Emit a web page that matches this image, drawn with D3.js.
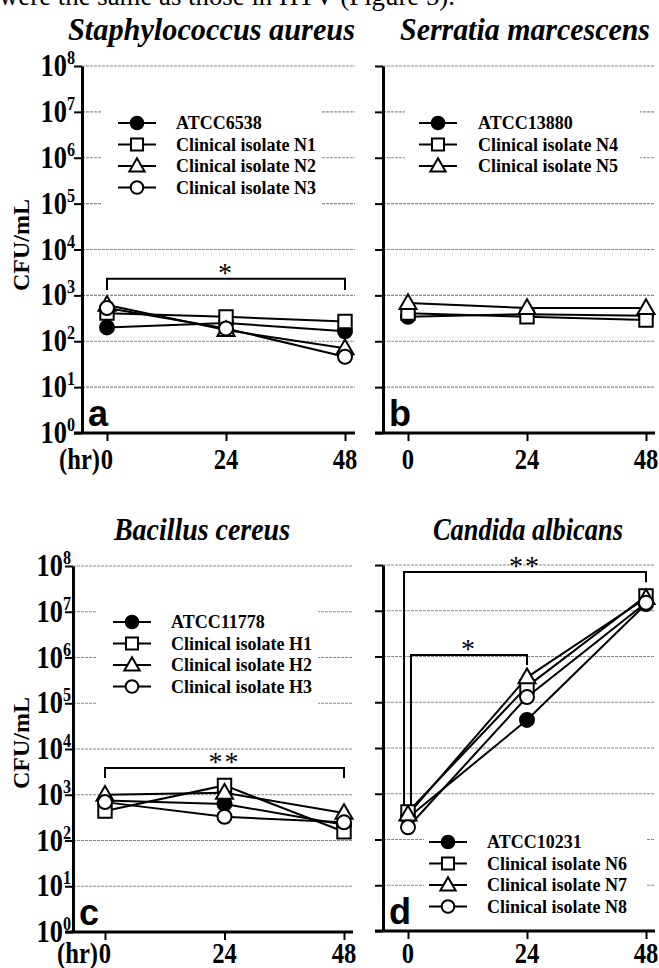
<!DOCTYPE html>
<html>
<head>
<meta charset="utf-8">
<script src="https://cdn.jsdelivr.net/npm/d3@7"></script>
<style>
body { margin: 0; background: #fff; }
svg { display: block; }
text { font-family: "Liberation Serif", "Times New Roman", serif; fill: #000; }
</style>
</head>
<body>
<svg id="fig" width="659" height="968"></svg>
<script>
// ---- data ----
const hours = [0, 24, 48];
const decades = [0, 1, 2, 3, 4, 5, 6, 7, 8];
const markerKinds = ["filled", "square", "triangle", "circle"];

const saNames = ["ATCC6538", "Clinical isolate N1", "Clinical isolate N2", "Clinical isolate N3"];
const saValues = [[200, 250, 165], [410, 340, 270], [620, 175, 70], [530, 190, 46]];

const smNames = ["ATCC13880", "Clinical isolate N4", "Clinical isolate N5"];
const smValues = [[340, 390, 360], [410, 340, 290], [680, 530, 530]];

const bcNames = ["ATCC11778", "Clinical isolate H1", "Clinical isolate H2", "Clinical isolate H3"];
const bcValues = [[750, 630, 220], [440, 1600, 155], [1000, 1100, 400], [690, 330, 250]];

const caNames = ["ATCC10231", "Clinical isolate N6", "Clinical isolate N7", "Clinical isolate N8"];
const caValues = [[300, 41000, 14000000], [400, 220000, 21000000], [350, 350000, 19000000], [185, 130000, 15000000]];

// significance brackets: from hour a to hour b, bar at value "bar", legs down to "endA"/"endB"
const saBrackets = [{a: 0, b: 48, bar: 2290, endA: 1310, endB: 1310, label: "*"}];
const bcBrackets = [{a: 0, b: 48, bar: 3840, endA: 2320, endB: 2320, label: "**"}];
const caBrackets = [
  {a: -0.8, b: 48, bar: 7.0e7, endA: 520, endB: 4.2e7, label: "**"},
  {a: 0.6, b: 24, bar: 1.08e6, endA: 520, endB: 6.5e5, label: "*"}
];

// ---- layout ----
const panels = [
  {title: "Staphylococcus aureus", tx: 68, tw: 287, ty: 40, letter: "a", names: saNames, values: saValues, brackets: saBrackets,
   axisX: 82, x0: 107, x48: 345, xEnd: 355, yTop: 66, yBottom: 433, xlabelDy: 36, labels: true, tickRight: 75, ylabelY: 245,
   legend: {x: 102, y: 103, w: 220, h: 108, mx: 137, tx: 176, ty: 123}},
  {title: "Serratia marcescens", tx: 400, tw: 250, ty: 40, letter: "b", names: smNames, values: smValues, brackets: [],
   axisX: 383, x0: 408, x48: 646, xEnd: 655, yTop: 66, yBottom: 433, xlabelDy: 36, labels: false,
   legend: {x: 405, y: 105, w: 235, h: 78, mx: 438, tx: 478, ty: 123}},
  {title: "Bacillus cereus", tx: 114, tw: 176, ty: 540, letter: "c", names: bcNames, values: bcValues, brackets: bcBrackets,
   axisX: 73, x0: 105, x48: 344, xEnd: 353, yTop: 566, yBottom: 932, xlabelDy: 31, labels: true, tickRight: 71, ylabelY: 743,
   legend: {x: 97, y: 600, w: 221, h: 113, mx: 132, tx: 171, ty: 622}},
  {title: "Candida albicans", tx: 433, tw: 190, ty: 540, letter: "d", names: caNames, values: caValues, brackets: caBrackets,
   axisX: 383, x0: 408, x48: 646, xEnd: 655, yTop: 565, yBottom: 931, xlabelDy: 32, labels: false,
   legend: {x: 424, y: 825, w: 222, h: 92, mx: 448, tx: 487, ty: 842}}
];

const svg = d3.select("#fig");

// cut-off text line from the page above the figure
svg.append("text").attr("x", -1).attr("y", 5)
  .attr("font-size", 27).attr("textLength", 456).attr("lengthAdjust", "spacingAndGlyphs")
  .text("were the same as those in HTV (Figure 5).");

function drawMarker(sel, kind, cx, cy, scale) {
  const k = scale || 1;
  if (kind === "filled" || kind === "circle") {
    sel.append("circle").attr("cx", cx).attr("cy", cy).attr("r", 7 * k)
      .attr("fill", kind === "filled" ? "#000" : "#fff").attr("stroke", "#000").attr("stroke-width", 2);
  } else {
    const type = kind === "square" ? d3.symbolSquare : d3.symbolTriangle;
    const size = (kind === "square" ? 180 : 125) * k * k;
    sel.append("path").attr("d", d3.symbol(type, size)())
      .attr("transform", `translate(${cx},${cy + (kind === "triangle" ? 1 : 0)})`)
      .attr("fill", "#fff").attr("stroke", "#000").attr("stroke-width", 2);
  }
}

function drawPanel(p) {
  const g = svg.append("g");
  const x = d3.scaleLinear().domain([0, 48]).range([p.x0, p.x48]);
  const y = d3.scaleLog().domain([1, 1e8]).range([p.yBottom, p.yTop]);

  // title
  g.append("text").attr("x", p.tx).attr("y", p.ty)
    .attr("font-size", 31).attr("font-weight", "bold").attr("font-style", "italic")
    .attr("textLength", p.tw).attr("lengthAdjust", "spacingAndGlyphs")
    .text(p.title);

  // grid lines
  g.append("g").selectAll("line").data(decades.slice(1)).join("line")
    .attr("x1", p.axisX).attr("x2", p.xEnd)
    .attr("y1", d => y(10 ** d)).attr("y2", d => y(10 ** d))
    .attr("stroke", "#8a8a8a").attr("stroke-width", 1.2).attr("stroke-dasharray", "3,1");

  // legend box hides the grid
  const L = p.legend;
  g.append("rect").attr("x", L.x).attr("y", L.y).attr("width", L.w).attr("height", L.h).attr("fill", "#fff");

  // y axis
  const yAxis = d3.axisLeft(y).tickValues(decades.map(d => 10 ** d)).tickSize(8).tickSizeOuter(0).tickFormat("");
  g.append("g").attr("transform", `translate(${p.axisX},0)`).call(yAxis)
    .call(a => a.select(".domain").attr("stroke-width", 3))
    .call(a => a.selectAll(".tick line").attr("stroke-width", 2));

  // x axis (line runs from the y axis tick to past 48)
  const xAxis = d3.axisBottom(x).tickValues(hours).tickSize(8).tickSizeOuter(0).tickFormat("");
  g.append("g").attr("transform", `translate(0,${p.yBottom})`).call(xAxis)
    .call(a => a.select(".domain").remove())
    .call(a => a.selectAll(".tick line").attr("stroke-width", 2));
  g.append("line").attr("x1", p.axisX - 8).attr("x2", p.xEnd)
    .attr("y1", p.yBottom).attr("y2", p.yBottom).attr("stroke", "#000").attr("stroke-width", 3);

  // x tick labels (condensed bold serif)
  hours.forEach(h => {
    g.append("g").attr("transform", `translate(${x(h)},${p.yBottom + p.xlabelDy}) scale(0.82,1)`)
      .append("text").attr("text-anchor", "middle").attr("font-size", 30).attr("font-weight", "bold").text(h);
  });
  if (p.labels) {
    g.append("g").attr("transform", `translate(${x(0) - 7},${p.yBottom + p.xlabelDy}) scale(0.82,1)`)
      .append("text").attr("text-anchor", "end").attr("font-size", 30).attr("font-weight", "bold").text("(hr)");

    // y tick labels 10^n
    decades.forEach(d => {
      const t = g.append("g").attr("transform", `translate(${p.tickRight},${y(10 ** d) + 10}) scale(0.85,1)`)
        .append("text").attr("text-anchor", "end").attr("font-size", 31).attr("font-weight", "bold");
      t.append("tspan").text("10");
      t.append("tspan").attr("font-size", 19).attr("dy", -12).text(d);
    });

    // y axis title
    g.append("text").attr("transform", `translate(29,${p.ylabelY}) rotate(-90)`)
      .attr("text-anchor", "middle").attr("font-size", 24).attr("font-weight", "bold")
      .attr("textLength", 92).attr("lengthAdjust", "spacingAndGlyphs").text("CFU/mL");
  }

  // brackets
  p.brackets.forEach(b => {
    g.append("path")
      .attr("d", `M${x(b.a)},${y(b.endA)}V${y(b.bar)}H${x(b.b)}V${y(b.endB)}`)
      .attr("fill", "none").attr("stroke", "#000").attr("stroke-width", 2);
    g.append("text").attr("x", (x(b.a) + x(b.b)) / 2).attr("y", y(b.bar) + 3)
      .attr("text-anchor", "middle").attr("font-size", 28).attr("letter-spacing", 2).text(b.label);
  });

  // series lines, then markers
  const line = d3.line().x((v, i) => x(hours[i])).y(v => y(v));
  g.append("g").selectAll("path").data(p.values).join("path")
    .attr("d", line).attr("fill", "none").attr("stroke", "#000").attr("stroke-width", 2);
  p.values.forEach((vals, s) => {
    const mg = g.append("g");
    vals.forEach((v, i) => drawMarker(mg, markerKinds[s], x(hours[i]), y(v)));
  });

  // legend
  p.names.forEach((name, s) => {
    const cy = L.ty + s * 21.5;
    g.append("line").attr("x1", L.mx - 19).attr("x2", L.mx + 19).attr("y1", cy).attr("y2", cy)
      .attr("stroke", "#000").attr("stroke-width", 2);
    drawMarker(g, markerKinds[s], L.mx, cy, 0.9);
    g.append("text").attr("x", L.tx).attr("y", cy + 6)
      .attr("font-size", 18).attr("font-weight", "bold").text(name);
  });

  // panel letter
  g.append("text").attr("x", p.axisX + 6).attr("y", p.yBottom - 7)
    .style("font-family", "'Liberation Sans', Arial, sans-serif")
    .attr("font-size", 36).attr("font-weight", "bold").text(p.letter);
}

panels.forEach(drawPanel);
</script>
</body>
</html>
